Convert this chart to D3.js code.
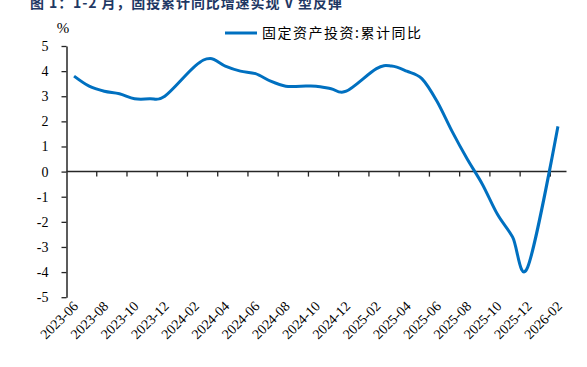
<!DOCTYPE html>
<html>
<head>
<meta charset="utf-8">
<script src="https://cdn.jsdelivr.net/npm/d3@7"></script>
<style>
  html, body { margin: 0; padding: 0; background: #fff; }
  svg { display: block; }
</style>
</head>
<body>
<svg id="chart" width="587" height="367"></svg>
<script>
// ---- data ----
const title = "图 1：1-2 月，固投累计同比增速实现 V 型反弹";
const seriesName = "固定资产投资:累计同比";
const yUnit = "%";
const months = ["2023-06","2023-07","2023-08","2023-09","2023-10","2023-11","2023-12",
  "2024-02","2024-03","2024-04","2024-05","2024-06","2024-07","2024-08","2024-09","2024-10","2024-11","2024-12",
  "2025-02","2025-03","2025-04","2025-05","2025-06","2025-07","2025-08","2025-09","2025-10","2025-11","2025-12",
  "2026-02"];
const values = [3.8,3.4,3.2,3.1,2.9,2.9,3.0,
  4.2,4.5,4.2,4.0,3.9,3.6,3.4,3.4,3.4,3.3,3.2,
  4.1,4.2,4.0,3.7,2.8,1.6,0.5,-0.5,-1.7,-2.6,-3.8,
  1.8];
const tickLabels = ["2023-06","2023-08","2023-10","2023-12","2024-02","2024-04","2024-06","2024-08",
  "2024-10","2024-12","2025-02","2025-04","2025-06","2025-08","2025-10","2025-12","2026-02"];
const yTicks = [-5,-4,-3,-2,-1,0,1,2,3,4,5];

// ---- layout ----
const svg = d3.select("#chart");
const fmt = d3.timeFormat("%Y-%m");
const allMonths = d3.timeMonth.range(new Date(2023,5,1), new Date(2026,2,1)).map(fmt);

const x = d3.scaleBand().domain(allMonths).range([66.5, 565.5]).padding(0);
const y = d3.scaleLinear().domain([-5, 5]).range([297.2, 46]);
const bw = x.bandwidth();
const axisColor = "#262626";

// title (partially cut at top, as in the reference)
svg.append("text")
  .attr("x", 30).attr("y", 8)
  .attr("font-family", "'Noto Sans CJK SC', sans-serif")
  .attr("font-weight", "bold")
  .attr("font-size", 14)
  .attr("letter-spacing", 0.9)
  .attr("fill", "#1f3864")
  .text(title);

// y axis
const yAxis = svg.append("g")
  .attr("transform", "translate(66.5,0)")
  .call(d3.axisLeft(y).tickValues(yTicks).tickSize(5).tickSizeOuter(0).tickPadding(13)
    .tickFormat(d => d3.format("d")(d).replace("−", "-")));
yAxis.select(".domain").attr("stroke", axisColor).attr("stroke-width", 1.5);
yAxis.selectAll(".tick line").attr("stroke", axisColor).attr("stroke-width", 1.3);
yAxis.selectAll(".tick text")
  .attr("font-family", "'Liberation Serif', 'Times New Roman', serif")
  .attr("font-size", 14).attr("fill", "#000");

// y unit
svg.append("text")
  .attr("x", 63).attr("y", 33)
  .attr("text-anchor", "middle")
  .attr("font-family", "'Liberation Serif', serif")
  .attr("font-size", 15)
  .attr("fill", "#000")
  .text(yUnit);

// x axis line at y=0
const y0 = y(0);
svg.append("line")
  .attr("x1", x.range()[0]).attr("x2", x.range()[1] + 1)
  .attr("y1", y0).attr("y2", y0)
  .attr("stroke", axisColor).attr("stroke-width", 1.5);

// ticks at boundaries of label months
svg.selectAll(".xtick").data(tickLabels.slice(1)).enter().append("line")
  .attr("class", "xtick")
  .attr("x1", d => x(d)).attr("x2", d => x(d))
  .attr("y1", y0).attr("y2", y0 + 5)
  .attr("stroke", axisColor).attr("stroke-width", 1.3);

// x labels rotated
svg.selectAll(".xlabel").data(tickLabels).enter().append("text")
  .attr("class", "xlabel")
  .attr("transform", d => `translate(${x(d) + bw/2 + 5},${307}) rotate(-45)`)
  .attr("text-anchor", "end")
  .attr("font-family", "'Liberation Serif', 'Times New Roman', serif")
  .attr("font-size", 14)
  .attr("fill", "#000")
  .text(d => d);

// line
const pts = months.map((m, i) => ({m, v: values[i]}));
const line = d3.line()
  .x(d => x(d.m) + bw/2)
  .y(d => y(d.v))
  .curve(d3.curveCardinal.tension(0));
svg.append("path")
  .datum(pts)
  .attr("d", line)
  .attr("fill", "none")
  .attr("stroke", "#0070C0")
  .attr("stroke-width", 3)
  .attr("stroke-linejoin", "round");

// legend
svg.append("line")
  .attr("x1", 225).attr("x2", 257)
  .attr("y1", 33).attr("y2", 33)
  .attr("stroke", "#0070C0").attr("stroke-width", 3);
svg.append("text")
  .attr("x", 262).attr("y", 38)
  .attr("font-family", "'Noto Sans CJK SC', sans-serif")
  .attr("font-size", 14)
  .attr("letter-spacing", 1.5)
  .attr("fill", "#000")
  .text(seriesName);
</script>
</body>
</html>
